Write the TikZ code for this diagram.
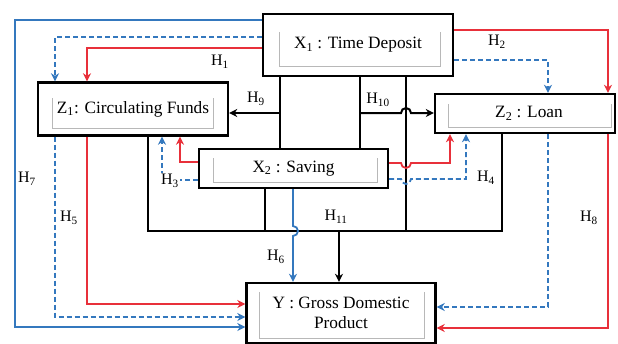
\documentclass[tikz,border=0pt]{standalone}
\usepackage{fontspec}
\setmainfont{Liberation Serif}
\usetikzlibrary{arrows.meta}
\definecolor{cred}{RGB}{232,48,58}
\definecolor{cblue}{RGB}{52,120,190}
\tikzset{
  box/.style={draw=black, line width=2.4pt, fill=white, inner sep=0pt, align=center, font=\fontsize{17.3}{20}\selectfont},
  bl/.style={draw=black, line width=2pt},
  arr/.style={-{Stealth[length=8pt,width=8pt]}},
  rd/.style={draw=cred, line width=1.8pt},
  bu/.style={draw=cblue, line width=1.8pt},
  bd/.style={draw=cblue, line width=1.8pt, dash pattern=on 5pt off 3pt},
  lab/.style={font=\fontsize{16}{18}\selectfont, inner sep=1pt},
  innerfr/.style={draw=black!28, line width=0.7pt},
}
\begin{document}
\begin{tikzpicture}[x=1pt,y=-1pt]
\useasboundingbox (0,0) rectangle (618,343);
% boxes
\node[box, minimum width=190pt, minimum height=62pt] (X1) at (358,45) {X\textsubscript{1} : Time Deposit};
\node[box, minimum width=190pt, minimum height=53pt] (Z1) at (133,109) {Z\textsubscript{1}: Circulating Funds};
\node[box, minimum width=180pt, minimum height=39pt] (Z2) at (525,113.5) {\hspace*{8pt}Z\textsubscript{2} : Loan};
\node[box, minimum width=189pt, minimum height=39pt] (X2) at (293.5,168.5) {X\textsubscript{2} : Saving};
\node[box, minimum width=189pt, minimum height=60pt] (Y) at (341,313) {Y : Gross Domestic\\Product};
% inner faint frames
\draw[innerfr] (279,32) -- (279,66) -- (440,66) -- (440,32);
\draw[innerfr] (52,98) -- (52,128) -- (213,128) -- (213,98);
\draw[innerfr] (448,104) -- (448,127) -- (611,127) -- (611,104);
\draw[innerfr] (213,158) -- (213,182) -- (377,182) -- (377,158);
\draw[innerfr] (259,292) -- (259,338) -- (424,338) -- (424,292);
% columns and rows
\coordinate (xa) at (280,0);
\coordinate (xb) at (360,0);
\coordinate (xc) at (406,0);
\coordinate (xbl) at (148,0);
\coordinate (xbr) at (502,0);
\coordinate (xs) at (265,0);
\coordinate (xy) at (339,0);
\coordinate (x7) at (15,0);
\coordinate (x5) at (55,0);
\coordinate (x1) at (87,0);
\coordinate (x3) at (162,0);
\coordinate (xr3) at (180,0);
\coordinate (xd2) at (548,0);
\coordinate (x2) at (608,0);
\coordinate (x6) at (293,0);
\coordinate (x4) at (466,0);
\coordinate (xr4) at (450,0);
\coordinate (ybus) at (0,231);
\coordinate (y9) at (0,113);
\coordinate (y7) at (0,20);
\coordinate (y7b) at (0,327);
\coordinate (y5) at (0,37);
\coordinate (y5b) at (0,317);
\coordinate (y1) at (0,48);
\coordinate (y1b) at (0,304);
\coordinate (y3) at (0,180);
\coordinate (yr3) at (0,162);
\coordinate (y2) at (0,30);
\coordinate (y8) at (0,328);
\coordinate (yd2) at (0,60);
\coordinate (yd2b) at (0,307);
\coordinate (yr4) at (0,163);
\coordinate (y4) at (0,179);
% black
\draw[bl] (X1.south -| xa) -- (X2.north -| xa);
\draw[bl,arr] (xa |- y9) -- (Z1.east |- y9);
\draw[bl] (X1.south -| xb) -- (X2.north -| xb);
\draw[bl] (X1.south -| xc) -- (xc |- ybus);
\draw[bl,arr] (xb |- y9) -- ([xshift=-5pt]xc |- y9) arc[start angle=180,end angle=0,radius=5pt] -- (Z2.west |- y9);
\draw[bl] (Z1.south -| xbl) |- (xbr |- ybus) -- (Z2.south -| xbr);
\draw[bl] (X2.south -| xs) -- (xs |- ybus);
\draw[bl,arr] (xy |- ybus) -- (Y.north -| xy);
% blue solid
\draw[bu,arr] (X1.west |- y7) -| (x7 |- y7b) -- (Y.west |- y7b);
\draw[bu,arr] (X2.south -| x6) -- ([yshift=5pt]x6 |- ybus) arc[start angle=90,end angle=-90,radius=5pt] -- (Y.north -| x6);
% blue dashed
\draw[bd,arr] (X1.west |- y5) -| (Z1.north -| x5);
\draw[bd,arr] (Z1.south -| x5) |- (Y.west |- y5b);
\draw[bd,arr] (X2.west |- y3) -| (Z1.south -| x3);
\draw[bd,arr] (X1.east |- yd2) -| (Z2.north -| xd2);
\draw[bd,arr] (Z2.south -| xd2) |- (Y.east |- yd2b);
\draw[bd,arr] (X2.east |- y4) -- ([xshift=-5pt]xc |- y4) arc[start angle=180,end angle=360,radius=5pt] -| (Z2.south -| x4);
% red
\draw[rd,arr] (X1.west |- y1) -| (Z1.north -| x1);
\draw[rd,arr] (Z1.south -| x1) |- (Y.west |- y1b);
\draw[rd,arr] (X2.west |- yr3) -| (Z1.south -| xr3);
\draw[rd,arr] (X1.east |- y2) -| (Z2.north -| x2);
\draw[rd,arr] (Z2.south -| x2) |- (Y.east |- y8);
\draw[rd,arr] (X2.east |- yr4) -- ([xshift=-5pt]xc |- yr4) arc[start angle=180,end angle=360,radius=5pt] -| (Z2.south -| xr4);
% labels
\node[lab] (h1) at (220,62) {H\textsubscript{1}};
\node[lab] (h2) at (497,42) {H\textsubscript{2}};
\node[lab, fill=white] (h3) at (170,181) {H\textsubscript{3}};
\node[lab] (h4) at (486,178) {H\textsubscript{4}};
\node[lab] (h5) at (69,218) {H\textsubscript{5}};
\node[lab] (h6) at (276,257) {H\textsubscript{6}};
\node[lab] (h7) at (27,179) {H\textsubscript{7}};
\node[lab] (h8) at (589,218) {H\textsubscript{8}};
\node[lab] (h9) at (256,99) {H\textsubscript{9}};
\node[lab] (h10) at (378,100) {H\textsubscript{10}};
\node[lab] (h11) at (336,217) {H\textsubscript{11}};
\end{tikzpicture}
\end{document}
